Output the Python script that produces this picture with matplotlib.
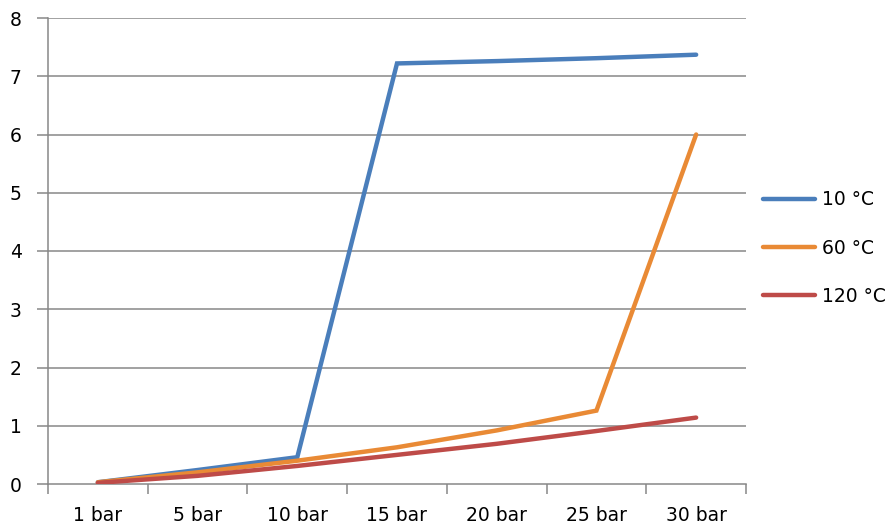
import matplotlib
matplotlib.use("Agg")
import matplotlib.pyplot as plt
import numpy as np

categories = ["1 bar", "5 bar", "10 bar", "15 bar", "20 bar", "25 bar", "30 bar"]
series_names = ["10 °C", "60 °C", "120 °C"]
t10 = [0.03, 0.24, 0.46, 7.22, 7.26, 7.31, 7.37]
t60 = [0.03, 0.20, 0.40, 0.63, 0.92, 1.26, 6.00]
t120 = [0.02, 0.14, 0.31, 0.50, 0.69, 0.91, 1.14]
colors = ["#4A7EBB", "#E98A35", "#BE4B48"]
yticks = [0, 1, 2, 3, 4, 5, 6, 7, 8]

W, H = 891, 528
fig = plt.figure(figsize=(W / 100, H / 100), dpi=100)
ax = fig.add_axes([48 / W, 1 - 484 / H, (746 - 48) / W, (484 - 18) / H])

x = np.arange(len(categories))
for vals, name, c in zip([t10, t60, t120], series_names, colors):
    ax.plot(x, vals, color=c, lw=3.2, label=name, solid_capstyle="round",
            solid_joinstyle="miter", zorder=3)

grid_c = "#878787"
ax.set_ylim(0, 8)
ax.set_xlim(-0.5, len(categories) - 0.5)
ax.set_yticks(yticks)
ax.set_yticklabels([str(v) for v in yticks])
for v in yticks[1:]:
    ax.axhline(v, color=grid_c, lw=1.1, zorder=1)

fs = 13.5
ax.set_xticks(x)
ax.set_xticklabels(categories)
ax.set_xticks(np.arange(-0.5, len(categories)), minor=True)
ax.tick_params(axis="x", which="major", length=0, pad=16, labelsize=fs)
ax.tick_params(axis="x", which="minor", length=7, width=1.1, color=grid_c, direction="out")
ax.tick_params(axis="y", which="major", length=8, width=1.1, color=grid_c, pad=11, labelsize=fs)

for s in ["top", "right"]:
    ax.spines[s].set_visible(False)
for s in ["left", "bottom"]:
    ax.spines[s].set_color(grid_c)
    ax.spines[s].set_linewidth(1.1)

leg = fig.legend(loc="center left", bbox_to_anchor=(763 / W, 1 - 248 / H),
                 frameon=False, fontsize=fs, handlelength=2.75,
                 handletextpad=0.4, labelspacing=1.55, borderpad=0,
                 borderaxespad=0)

fig.savefig("out.png", dpi=100)
